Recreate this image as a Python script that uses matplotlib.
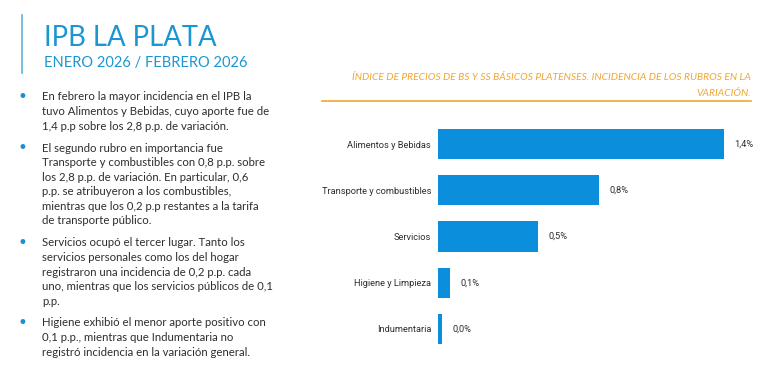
import matplotlib.pyplot as plt

# chart data
categories = ["Alimentos y Bebidas", "Transporte y combustibles", "Servicios",
              "Higiene y Limpieza", "Indumentaria"]
values = [1.40, 0.79, 0.49, 0.06, 0.02]

title = "IPB LA PLATA"
subtitle = "ENERO 2026 / FEBRERO 2026"
chart_title = ["ÍNDICE DE PRECIOS DE BS Y SS BÁSICOS PLATENSES. INCIDENCIA DE LOS RUBROS EN LA",
               "VARIACIÓN."]
bullets = [
    ["En febrero la mayor incidencia en el IPB la",
     "tuvo Alimentos y Bebidas, cuyo aporte fue de",
     "1,4 p.p sobre los 2,8 p.p. de variación."],
    ["El segundo rubro en importancia fue",
     "Transporte y combustibles con 0,8 p.p. sobre",
     "los 2,8 p.p. de variación. En particular, 0,6",
     "p.p. se atribuyeron a los combustibles,",
     "mientras que los 0,2 p.p restantes a la tarifa",
     "de transporte público."],
    ["Servicios ocupó el tercer lugar. Tanto los",
     "servicios personales como los del hogar",
     "registraron una incidencia de 0,2 p.p. cada",
     "uno, mientras que los servicios públicos de 0,1",
     "p.p."],
    ["Higiene exhibió el menor aporte positivo con",
     "0,1 p.p., mientras que Indumentaria no",
     "registró incidencia en la variación general."],
]

W, H = 768, 371
BLUE = "#1b96d4"
BAR = "#0b8edb"
ORANGE = "#f2a531"
TEXT = "#2e2e2e"


def fx(px):
    return px / W


def fy(py):
    return 1 - py / H


fig = plt.figure(figsize=(W / 100, H / 100), dpi=100)
fig.patch.set_facecolor("white")

# header
fig.add_artist(plt.Line2D([fx(22), fx(22)], [fy(15), fy(73)], color="#5bb4e0", lw=1.2))
fig.text(fx(44), fy(38), title, fontsize=19.8, color=BLUE, family="Lato", va="center")
fig.text(fx(44), fy(63), subtitle, fontsize=10.5, color=BLUE, family="Lato", va="center")

# bullet list
starts = [97, 148, 243, 323]
for start, lines in zip(starts, bullets):
    fig.text(fx(22), fy(start), "•", fontsize=12, color="#1a8fd6", va="center", ha="center")
    for i, line in enumerate(lines):
        fig.text(fx(42), fy(start + i * 14.6), line, fontsize=8.2, color=TEXT,
                 family="Lato", va="center")

# chart title
fig.text(fx(751), fy(77), chart_title[0], fontsize=7.4, color=ORANGE, style="italic",
         family="Lato", ha="right", va="center")
fig.text(fx(751), fy(93), chart_title[1], fontsize=7.4, color=ORANGE, style="italic",
         family="Lato", ha="right", va="center")
fig.add_artist(plt.Line2D([fx(322), fx(751)], [fy(101), fy(101)], color=ORANGE, lw=1.2))

# bar chart
ax = fig.add_axes([fx(438), 1 - 352 / H, 286 / W, 231 / H])
y = range(len(categories))
ax.barh(y, values, height=0.65, color=BAR)
ax.set_xlim(0, 1.4)
ax.set_ylim(len(categories) - 0.5, -0.5)
ax.set_yticks(list(y))
ax.set_yticklabels(categories, family="Roboto", fontsize=6.7, color=TEXT)
ax.tick_params(axis="y", length=0, pad=5)
ax.set_xticks([])
for s in ax.spines.values():
    s.set_visible(False)
for i, v in enumerate(values):
    ax.annotate(f"{v:.1f}".replace(".", ",") + "%", (v, i), xytext=(10, 0),
                textcoords="offset pixels", va="center", ha="left",
                family="Roboto", fontsize=6.7, color=TEXT, annotation_clip=False)

fig.savefig("out.png", dpi=100)
